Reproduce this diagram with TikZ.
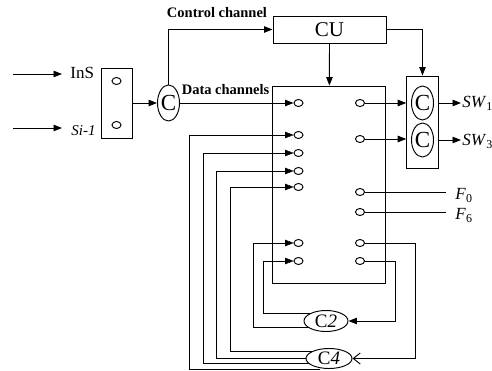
\documentclass[tikz,border=0pt]{standalone}
\usepackage{fontspec}
\setmainfont{Liberation Serif}
\usetikzlibrary{arrows.meta,shapes.geometric,backgrounds}
\tikzset{
	box/.style={draw, rectangle, inner sep=0pt},
	port/.style={draw, ellipse, inner sep=0pt, minimum width=9pt, minimum height=7pt},
	chan/.style={draw, ellipse, inner sep=0pt, minimum width=22pt, minimum height=34pt, font=\fontsize{23}{23}\selectfont},
	cnode/.style={draw, ellipse, fill=white, inner sep=0pt, minimum width=44pt, minimum height=21pt, font=\fontsize{19}{19}\selectfont},
	lbl/.style={inner ysep=0pt, font=\fontsize{17}{17}\selectfont},
	head/.style={inner sep=0pt, font=\fontsize{14.5}{14.5}\selectfont\bfseries},
	>={Triangle[length=8.5pt,width=6.5pt]},
	barb/.style={-{Straight Barb[length=7pt,width=11pt]}}
}
\begin{document}
\begin{tikzpicture}[x=1pt, y=-1pt, line width=0.95pt]
	\useasboundingbox (0,0) rectangle (492,371);
	\node[box, minimum width=31pt, minimum height=70pt] (inbox) at (116.5,103) {};
	\node[port] (p1) at (116.5,81) {};
	\node[port] (p2) at (116.5,125) {};
	\node[lbl, anchor=west, inner xsep=8pt] (ins) at (62,73) {InS};
	\node[lbl, anchor=west, inner xsep=9pt, font=\fontsize{15}{15}\selectfont\itshape] (si) at (62,131) {Si-1};
	\coordinate (insrc) at (13,74);
	\coordinate (sisrc) at (13,128);
	\draw[->] (insrc) -- (insrc -| ins.west);
	\draw[->] (sisrc) -- (sisrc -| si.west);
	\node[chan, minimum height=36pt] (cin) at (168.5,103) {C};
	\draw[->] (inbox) -- (cin);
	
	\node[box, minimum width=113pt, minimum height=27pt, font=\fontsize{21}{21}\selectfont] (cu) at (329.5,29.5) {CU};
	\node[head] (ctrl) at (217,13) {Control channel};
	\draw[->] (cin.north) |- (cu.west);
	
	\node[box, minimum width=113.3pt, minimum height=197pt] (main) at (329.3,184.5) {};
	\draw[->] (cu) -- (main);
	\foreach \n/\y in {1/103,2/135,3/153,4/171,5/187,6/243,7/261}
		\node[port] (L\n) at (298.5,\y) {};
	\foreach \n/\y in {1/103,2/139,3/192,4/212,5/243,6/261}
		\node[port] (R\n) at (360,\y) {};
	\node[head] (data) at (225.5,90) {Data channels};
	\draw[->] (cin) -- (L1);
	
	\node[box, minimum width=31.6pt, minimum height=92pt] (sw) at (422.5,122) {};
	\node[chan] (s1) at (422.5,103) {C};
	\node[chan] (s2) at (422.5,140) {C};
	\draw[->] (cu.east) -| (sw.north);
	\draw[->] (R1) -- (R1 -| sw.west);
	\draw[->] (R2) -- (R2 -| sw.west);
	\node[lbl, anchor=base west, inner xsep=1pt] (sw1) at (461,108) {\textit{SW}\raisebox{-3pt}{\fontsize{12}{12}\selectfont 1}};
	\node[lbl, anchor=base west, inner xsep=1pt] (sw3) at (461,146) {\textit{SW}\raisebox{-3pt}{\fontsize{12}{12}\selectfont 3}};
	\draw[->] (sw.east |- s1) -- (s1 -| sw1.west);
	\draw[->] (sw.east |- s2) -- (s2 -| sw3.west);
	
	\node[lbl, anchor=base west, inner xsep=9pt] (f0) at (446,200) {\textit{F}\raisebox{-3pt}{\fontsize{12}{12}\selectfont 0}};
	\node[lbl, anchor=base west, inner xsep=9pt] (f6) at (446,220) {\textit{F}\raisebox{-3pt}{\fontsize{12}{12}\selectfont 6}};
	\draw (R3) -- (R3 -| f0.west);
	\draw (R4) -- (R4 -| f6.west);
	
	\node[cnode] (c2) at (326,321) {C\textit{2}};
	\node[cnode, minimum width=46pt, minimum height=20pt] (c4) at (329,358.5) {C\textit{4}};
	\coordinate (k2) at (395,321);
	\coordinate (k4) at (415.7,358.5);
	\draw[->] (R6) -| (k2) -- (c2);
	\draw[barb] (R5) -| (k4) -- (c4);
	\begin{scope}[on background layer]
		\draw[->] ([yshift=7.7pt]c2.center) -| (263,261) -- (L7);
		\draw[->] ([yshift=-5.7pt]c2.center) -| (252.7,243) -- (L6);
		\draw[->] ([yshift=7.5pt]c4.center) -| (230,187) -- (L5);
		\draw[->] (c4.center) -| (216,171) -- (L4);
		\draw[->] ([yshift=-4.8pt]c4.center) -| (203.3,153) -- (L3);
		\draw[->] ([xshift=-9pt,yshift=-10.5pt]c4.center) -| (189.5,135) -- (L2);
	\end{scope}
\end{tikzpicture}
\end{document}
